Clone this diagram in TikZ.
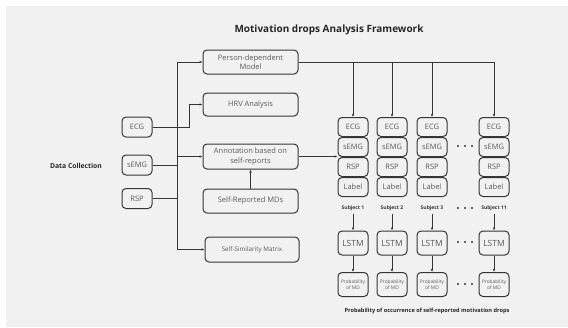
\documentclass[tikz,border=0pt]{standalone}
\usepackage{fontspec}
\setmainfont{Open Sans}
\usepackage{xcolor}
\usetikzlibrary{arrows.meta}
\usetikzlibrary{positioning}

\definecolor{bggray}{HTML}{F1F1F1}
\definecolor{edgegray}{HTML}{353535}
\definecolor{txtgray}{HTML}{5A5A5A}

\begin{document}
\begin{tikzpicture}[x=1pt, y=-1pt,
  every node/.style = {text=txtgray, font=\fontsize{7.5}{9.5}\selectfont},
  box/.style = {draw=edgegray, rounded corners=4pt, line width=1pt,
    fill=bggray, align=center, inner sep=1pt},
  srcbox/.style = {box, minimum width=30pt, minimum height=20pt},
  stepbox/.style = {box, minimum width=95pt, minimum height=24pt},
  colbox/.style = {box, minimum width=30pt, minimum height=19pt},
  lstmbox/.style = {box, minimum width=30pt, minimum height=24pt,
    font=\fontsize{8.5}{10}\selectfont},
  probbox/.style = {box, minimum width=30pt, minimum height=24pt,
    font=\fontsize{4.8}{6}\selectfont},
  subj/.style = {text=edgegray, font=\fontsize{5}{6}\selectfont\bfseries},
  heading/.style = {text=black!85, font=\bfseries},
  line/.style = {draw=edgegray, line width=0.8pt},
  arr/.style = {line, -{Latex[length=3pt,width=2.6pt]}}]

  % background
  \fill[bggray] (6,6) rectangle (568,327);
  \useasboundingbox (0,0) rectangle (568,327);

  \node[heading, font=\fontsize{10}{12}\selectfont\bfseries] (title) at (329,30)
    {Motivation drops Analysis Framework};

  % data collection
  \node[heading, font=\fontsize{6.8}{8}\selectfont\bfseries] (dc) at (76,166) {Data Collection};
  \node[srcbox] (ecg) at (137,127) {ECG};
  \node[srcbox] (semg) at (137,165) {sEMG};
  \node[srcbox] (rsp) at (137,198.5) {RSP};

  % analysis steps
  \node[stepbox] (pdm) at (250.5,62) {Person-dependent\\Model};
  \node[stepbox, minimum height=23pt] (hrv) at (250.5,104.5) {HRV Analysis};
  \node[stepbox, minimum height=25pt] (ann) at (250.5,156.5) {Annotation based on\\self-reports};
  \node[stepbox] (srm) at (250.5,201) {Self-Reported MDs};
  \node[stepbox, minimum width=94pt, minimum height=25pt,
    font=\fontsize{6.3}{8}\selectfont] (ssm) at (252,249.5) {Self-Similarity Matrix};

  \coordinate (trunk) at (177,0);
  \coordinate (bend) at (189,0);

  \draw[arr] (trunk |- ssm.west) -- (trunk |- pdm.west) -- (pdm.west);
  \draw[arr] (trunk |- ann.west) -- (ann.west);
  \draw[arr] (trunk |- ssm.west) -- (ssm.west);
  \draw[line] (semg.east) -- (semg.east -| trunk);
  \draw[line] (rsp.east) -- (rsp.east -| trunk);
  \draw[arr] (ecg.east) -- (ecg.east -| bend) |- (hrv.west);
  \draw[arr] (srm.north) -- (ann.south);

  % subjects
  \foreach \c/\x/\s in {A/353/1, B/392/2, C/432/3, D/494/11} {
    \node[colbox] (e\c) at (\x,127) {ECG};
    \node[colbox] (m\c) at (\x,147) {sEMG};
    \node[colbox] (r\c) at (\x,167) {RSP};
    \node[colbox] (l\c) at (\x,187) {Label};
    \node[subj] (s\c) at (\x,208) {Subject \s};
    \node[lstmbox] (n\c) at (\x,243) {LSTM};
    \node[probbox] (p\c) at (\x,284.5) {Probability\\of MD};
    \draw[arr] (s\c.south) -- (n\c.north);
    \draw[arr] (n\c.south) -- (p\c.north);
    \draw[arr] (pdm.east -| e\c.north) -- (e\c.north);
  }
  \draw[line] (pdm.east) -- (pdm.east -| eD.north);
  \draw[arr] (ann.east) -- (ann.east -| rA.west);

  % dots
  \foreach \y in {146,208,242,284}
    \foreach \dx in {-7,0,7}
      \fill[edgegray] (465+\dx,\y) circle (1.2pt);

  \node[heading, font=\fontsize{5.6}{7}\selectfont\bfseries] (cap) at (427,311)
    {Probability of occurrence of self-reported motivation drops};
\end{tikzpicture}
\end{document}
